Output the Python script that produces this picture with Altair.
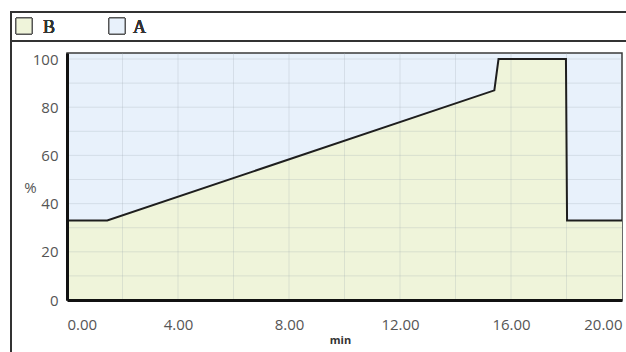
import altair as alt
import pandas as pd

# Gradient program: %B versus time (A is the remainder up to the top)
time_min = [0.0, 1.45, 15.4, 15.55, 17.98, 18.02, 20.0]
pct_b = [33, 33, 87, 100, 100, 33, 33]
y_top = 102.5

x_ticks = [0, 4, 8, 12, 16, 20]
y_ticks = [0, 20, 40, 60, 80, 100]
x_grid = [2, 4, 6, 8, 10, 12, 14, 16, 18]
y_grid = [10, 20, 30, 40, 50, 60, 70, 80, 90, 100]

series = ["B", "A"]
series_fill = ["#eff4da", "#e8f1fb"]

df = pd.DataFrame({"t": time_min, "b": pct_b})
xg = pd.DataFrame({"g": x_grid})
yg = pd.DataFrame({"g": y_grid})

xs = alt.Scale(domain=[0, 20], nice=False, zero=False)
ys = alt.Scale(domain=[0, y_top], nice=False)

x_enc = alt.X("t:Q", scale=xs, axis=alt.Axis(
    values=x_ticks, format=".2f", grid=False, ticks=False,
    labelFont="Open Sans", labelFontSize=15, labelColor="#555555",
    labelPadding=17, domainColor="#111111", domainWidth=3, zindex=1,
    title="min", titleFont="Open Sans", titleFontSize=11, titleFontWeight="bold",
    titleColor="#333333", titleX=273, titleY=40, titleBaseline="middle"))
y_enc = alt.Y("b:Q", scale=ys, axis=alt.Axis(
    values=y_ticks, grid=False, ticks=False,
    labelFont="Open Sans", labelFontSize=15, labelColor="#555555",
    labelPadding=9, domainColor="#111111", domainWidth=3, zindex=1,
    title="%", titleFont="Open Sans", titleFontSize=15, titleFontWeight="normal",
    titleColor="#555555", titleAngle=0, titleX=-37, titleY=134,
    titleAlign="center", titleBaseline="middle"))

# %B region; the view fill behind it shows the A share
area_b = alt.Chart(df).mark_area(color=series_fill[0], opacity=1).encode(
    x=x_enc, y=y_enc)

grid_v = alt.Chart(xg).mark_rule(color="#9aa8b0", strokeOpacity=0.25, strokeWidth=1).encode(
    x=alt.X("g:Q", scale=xs))
grid_h = alt.Chart(yg).mark_rule(color="#9aa8b0", strokeOpacity=0.25, strokeWidth=1).encode(
    y=alt.Y("g:Q", scale=ys))

profile = alt.Chart(df).mark_line(color="#1e1e1e", strokeWidth=2).encode(
    x=alt.X("t:Q", scale=xs), y=alt.Y("b:Q", scale=ys))

# Outer frame and the legend strip above the plot
frame = alt.Chart(df).mark_rect(filled=False, stroke="#333333", strokeWidth=1.5).encode(
    x=alt.value(-56), x2=alt.value(600), y=alt.value(-41), y2=alt.value(340))
divider = alt.Chart(df).mark_rule(color="#333333", strokeWidth=2).encode(
    x=alt.value(-56), x2=alt.value(600), y=alt.value(-12))

sw_b = alt.Chart(df).mark_rect(fill=series_fill[0], stroke="#555555", strokeWidth=1).encode(
    x=alt.value(-51), x2=alt.value(-35), y=alt.value(-35), y2=alt.value(-19))
sw_a = alt.Chart(df).mark_rect(fill=series_fill[1], stroke="#555555", strokeWidth=1).encode(
    x=alt.value(42), x2=alt.value(58), y=alt.value(-35), y2=alt.value(-19))
lab_b = alt.Chart(df).mark_text(font="Liberation Serif", fontSize=18, fontWeight=400,
                                align="left", baseline="middle", color="#333333").encode(
    x=alt.value(-24), y=alt.value(-25), text=alt.value(series[0]))
lab_a = alt.Chart(df).mark_text(font="Liberation Serif", fontSize=18, fontWeight=400,
                                align="left", baseline="middle", color="#333333").encode(
    x=alt.value(66), y=alt.value(-25), text=alt.value(series[1]))

chart = alt.layer(
    area_b, grid_v, grid_h, profile,
    frame, divider, sw_b, sw_a, lab_b, lab_a,
).properties(
    width=555, height=247,
    autosize=alt.AutoSizeParams(type="none"),
    padding={"left": 67, "top": 53, "right": 4, "bottom": 52},
    background="white",
).configure_view(stroke="#3a3a3a", strokeWidth=1.5, fill=series_fill[1])

chart.save("out.html", embed_options={"renderer": "svg", "actions": False})
